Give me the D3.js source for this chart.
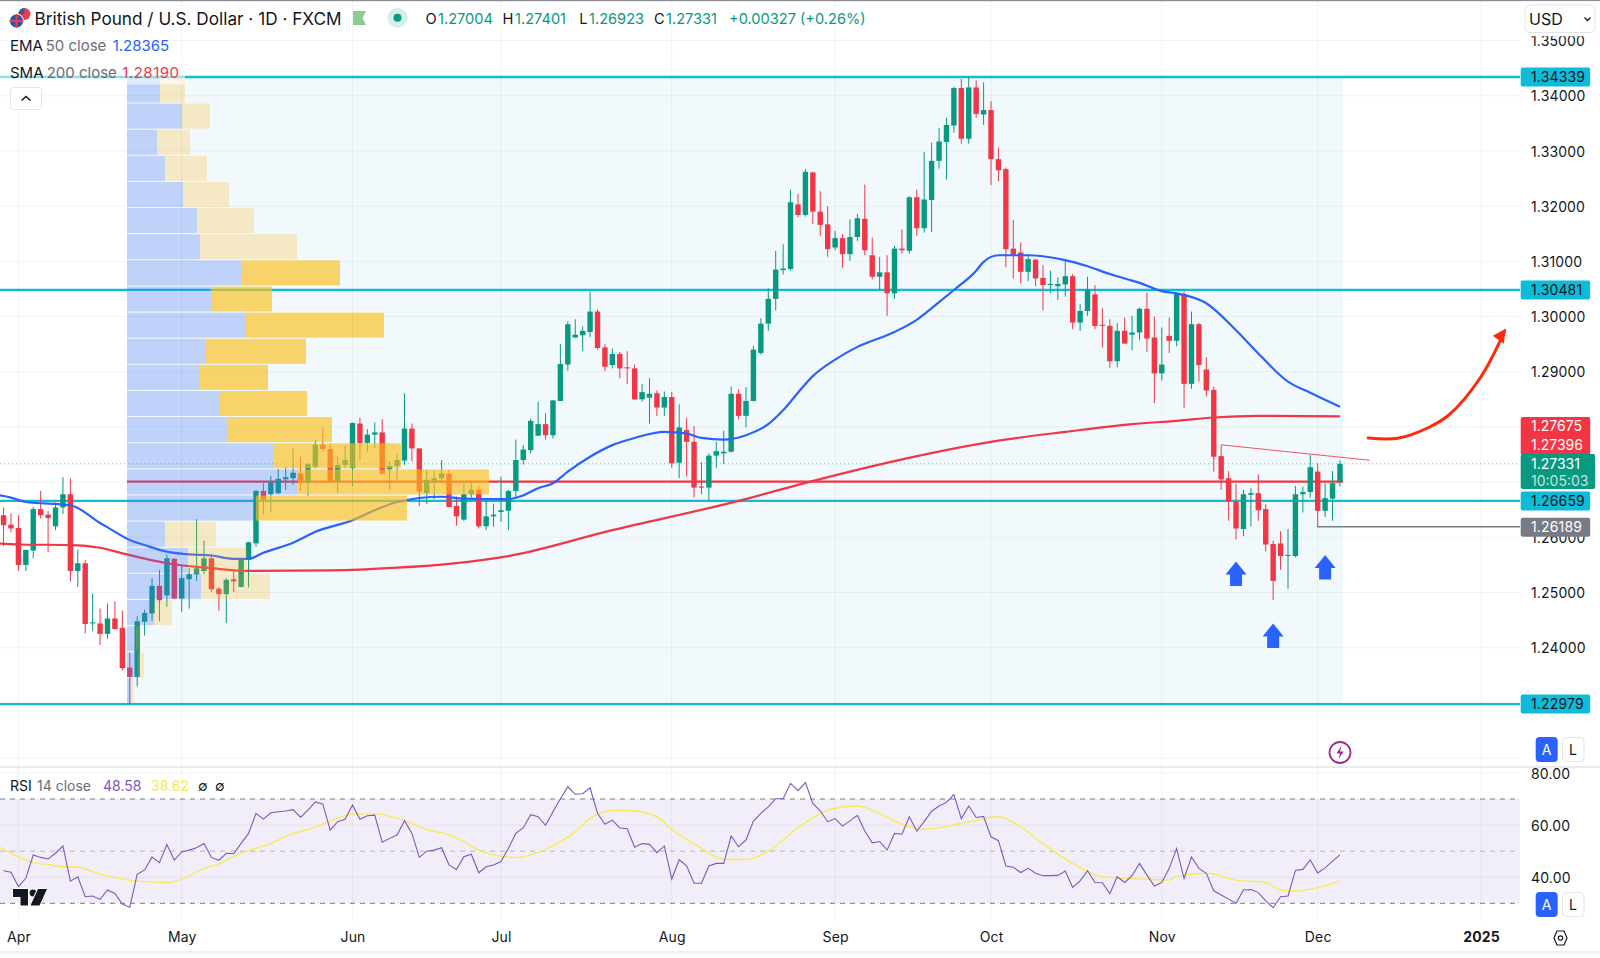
<!DOCTYPE html>
<html lang="en">
<head>
  <meta charset="UTF-8">
  <title>GBP/USD daily</title>
  <script src="https://d3js.org/d3.v7.min.js"></script>
  <style>
    html, body { margin: 0; padding: 0; background: #fff; }
    svg { display: block; font-family: Inter, "Noto Sans", sans-serif; }
    .tick text { fill: #131722; font-family: Inter, "Noto Sans", sans-serif; letter-spacing: 0.15px; }
  </style>
</head>
<body>
  <div id="chart"></div>
  <script>
    // first candle is two sessions before Apr 1
    const firstBar = -2;
    const opens = [
      1.2640,1.2623,1.2617,1.2550,1.2576,1.2651,1.2641,1.2620,1.2654,1.2678,
      1.2539,1.2553,1.2444,1.2444,1.2425,1.2453,1.2436,1.2364,1.2347,1.2447,
      1.2462,1.2512,1.2495,1.2561,1.2489,1.2524,1.2533,1.2539,1.2562,1.2507,
      1.2497,1.2524,1.2510,1.2559,1.2589,1.2684,1.2678,1.2680,1.2705,1.2707,
      1.2716,1.2698,1.2728,1.2768,1.2760,1.2701,1.2731,1.2725,1.2806,1.2771,
      1.2786,1.2790,1.2723,1.2729,1.2739,1.2797,1.2761,1.2680,1.2703,1.2707,
      1.2715,1.2657,1.2632,1.2678,1.2686,1.2620,1.2638,1.2646,1.2648,1.2684,
      1.2740,1.2758,1.2784,1.2805,1.2785,1.2847,1.2913,1.2962,1.2966,1.2972,
      1.3009,1.2944,1.2912,1.2932,1.2908,1.2906,1.2850,1.2853,1.2861,1.2835,
      1.2854,1.2735,1.2794,1.2773,1.2692,1.2690,1.2748,1.2752,1.2755,1.2860,
      1.2820,1.2847,1.2934,1.2987,1.3032,1.3084,1.3086,1.3203,1.3184,1.3261,
      1.3190,1.3167,1.3125,1.3142,1.3113,1.3144,1.3177,1.3111,1.3072,1.3080,
      1.3042,1.3123,1.3119,1.3216,1.3160,1.3211,1.3282,1.3316,1.3346,1.3414,
      1.3322,1.3415,1.3366,1.3374,1.3285,1.3267,1.3123,1.3116,1.3081,1.3103,
      1.3070,1.3057,1.3055,1.3058,1.3073,1.2989,1.3010,1.3040,1.2985,1.2983,
      1.2919,1.2974,1.2967,1.2971,1.3014,1.2962,1.2897,1.2965,1.2956,1.3041,
      1.2878,1.2986,1.2904,1.2867,1.2747,1.2707,1.2665,1.2615,1.2677,1.2680,
      1.2651,1.2588,1.2589,1.2567,1.2566,1.2678,1.2682,1.2719,1.2648,1.2670,1.27004
    ];
    const highs = [
      1.2654,1.2643,1.2640,1.2578,1.2655,1.2684,1.2648,1.2663,1.2709,1.2707,
      1.2578,1.2559,1.2498,1.2471,1.2480,1.2484,1.2467,1.2391,1.2457,1.2469,
      1.2526,1.2541,1.2569,1.2562,1.2550,1.2544,1.2633,1.2594,1.2570,1.2510,
      1.2526,1.2541,1.2562,1.2592,1.2686,1.2698,1.2711,1.2724,1.2728,1.2761,
      1.2746,1.2734,1.2776,1.2800,1.2770,1.2747,1.2766,1.2808,1.2817,1.2796,
      1.2808,1.2814,1.2738,1.2752,1.2861,1.2806,1.2762,1.2722,1.2720,1.2740,
      1.2722,1.2674,1.2698,1.2698,1.2692,1.2669,1.2661,1.2710,1.2686,1.2777,
      1.2767,1.2815,1.2846,1.2825,1.2849,1.2950,1.2991,1.2995,1.2982,1.3045,
      1.3013,1.2950,1.2942,1.2936,1.2937,1.2913,1.2878,1.2888,1.2866,1.2864,
      1.2863,1.2841,1.2817,1.2802,1.2736,1.2752,1.2773,1.2793,1.2873,1.2868,
      1.2872,1.2947,1.2997,1.3051,1.3119,1.3131,1.3230,1.3222,1.3267,1.3262,
      1.3227,1.3200,1.3155,1.3149,1.3176,1.3186,1.3239,1.3143,1.3108,1.3111,
      1.3128,1.3158,1.3218,1.3230,1.3298,1.3315,1.3341,1.3360,1.3416,1.3430,
      1.3434,1.3428,1.3424,1.3390,1.3306,1.3270,1.3175,1.3134,1.3113,1.3104,
      1.3093,1.3083,1.3071,1.3102,1.3077,1.3023,1.3072,1.3057,1.3015,1.2995,
      1.2988,1.2998,1.3001,1.3016,1.3043,1.3000,1.2980,1.2998,1.3043,1.3046,
      1.3009,1.2988,1.2926,1.2873,1.2767,1.2720,1.2697,1.2686,1.2689,1.2714,
      1.2660,1.2594,1.2611,1.2615,1.2693,1.2692,1.2749,1.2734,1.2698,1.2720,1.27401
    ];
    const lows = [
      1.2584,1.2609,1.2539,1.2539,1.2562,1.2634,1.2573,1.2613,1.2642,1.2520,
      1.2510,1.2426,1.2430,1.2405,1.2416,1.2432,1.2359,1.2298,1.2330,1.2422,
      1.2449,1.2448,1.2474,1.2488,1.2465,1.2471,1.2521,1.2533,1.2501,1.2467,
      1.2445,1.2501,1.2509,1.2509,1.2583,1.2642,1.2645,1.2678,1.2686,1.2695,
      1.2684,1.2674,1.2725,1.2755,1.2700,1.2681,1.2725,1.2693,1.2741,1.2755,
      1.2762,1.2714,1.2687,1.2704,1.2731,1.2738,1.2657,1.2660,1.2669,1.2701,
      1.2654,1.2621,1.2630,1.2672,1.2616,1.2613,1.2619,1.2628,1.2613,1.2670,
      1.2732,1.2752,1.2784,1.2777,1.2779,1.2847,1.2902,1.2961,1.2938,1.2963,
      1.2940,1.2901,1.2906,1.2888,1.2878,1.2849,1.2846,1.2806,1.2820,1.2820,
      1.2726,1.2707,1.2710,1.2672,1.2678,1.2666,1.2726,1.2733,1.2754,1.2814,
      1.2799,1.2846,1.2931,1.2974,1.3011,1.3076,1.3083,1.3180,1.3181,1.3168,
      1.3146,1.3108,1.3120,1.3088,1.3101,1.3137,1.3111,1.3067,1.3048,1.3001,
      1.3032,1.3114,1.3114,1.3146,1.3152,1.3153,1.3268,1.3248,1.3333,1.3313,
      1.3313,1.3360,1.3347,1.3238,1.3245,1.3089,1.3069,1.3060,1.3064,1.3055,
      1.3011,1.3042,1.3030,1.3036,1.2977,1.2974,1.3001,1.2977,1.2944,1.2907,
      1.2908,1.2950,1.2939,1.2957,1.2936,1.2843,1.2884,1.2934,1.2946,1.2834,
      1.2869,1.2882,1.2855,1.2719,1.2686,1.2630,1.2596,1.2602,1.2620,1.2630,
      1.2574,1.2486,1.2541,1.2507,1.2564,1.2645,1.2672,1.2618,1.2637,1.2630,1.26923
    ];
    const closes = [
      1.2622,1.2616,1.2550,1.2577,1.2651,1.2640,1.2635,1.2654,1.2678,1.2539,
      1.2553,1.2443,1.2446,1.2425,1.2453,1.2434,1.2363,1.2347,1.2448,1.2463,
      1.2512,1.2486,1.2562,1.2489,1.2526,1.2533,1.2544,1.2562,1.2506,1.2497,
      1.2523,1.2520,1.2560,1.2591,1.2684,1.2668,1.2699,1.2706,1.2709,1.2717,
      1.2698,1.2733,1.2768,1.2760,1.2701,1.2731,1.2740,1.2807,1.2771,1.2786,
      1.2790,1.2715,1.2729,1.2740,1.2797,1.2761,1.2683,1.2704,1.2707,1.2716,
      1.2655,1.2638,1.2678,1.2686,1.2620,1.2638,1.2641,1.2649,1.2684,1.2740,
      1.2759,1.2811,1.2805,1.2785,1.2848,1.2914,1.2986,1.2967,1.2974,1.3009,
      1.2943,1.2909,1.2932,1.2906,1.2906,1.2850,1.2863,1.2860,1.2835,1.2854,
      1.2734,1.2799,1.2773,1.2690,1.2690,1.2748,1.2756,1.2755,1.2860,1.2820,
      1.2847,1.2940,1.2987,1.3032,1.3085,1.3087,1.3207,1.3184,1.3262,1.3190,
      1.3166,1.3122,1.3142,1.3113,1.3144,1.3178,1.3120,1.3072,1.3080,1.3042,
      1.3123,1.3120,1.3216,1.3160,1.3212,1.3282,1.3317,1.3347,1.3414,1.3322,
      1.3415,1.3367,1.3374,1.3285,1.3265,1.3122,1.3112,1.3081,1.3104,1.3069,
      1.3057,1.3059,1.3059,1.3073,1.2989,1.3010,1.3048,1.2983,1.2983,1.2919,
      1.2974,1.2951,1.2971,1.3014,1.2960,1.2897,1.2913,1.2956,1.3042,1.2878,
      1.2986,1.2912,1.2866,1.2746,1.2705,1.2665,1.2616,1.2678,1.2680,1.2649,
      1.2587,1.2521,1.2566,1.2568,1.2678,1.2682,1.2727,1.2648,1.2671,1.2698,1.27331
    ];

    const emaBars = [-3,-1,1,7,11,13,15,17,20,23,26,29,31,33,37,40,45,48,51,57,60,66,68,70,72,74,77,80,83,87,90,92,95,98,101,103,105,107,110,113,118,121,124,126,129,130,132,136,141,144,147,150,151,154,156,160,164,167,171,174,178];
    const emaValues = [1.2677,1.2672,1.2664,1.2658,1.2626,1.2610,1.2595,1.2586,1.2574,1.2569,1.2567,1.2561,1.2561,1.2572,1.2590,1.2610,1.2631,1.2649,1.2664,1.26735,1.2670,1.2669,1.2676,1.2689,1.2698,1.2719,1.2746,1.2767,1.2780,1.2791,1.2788,1.2780,1.2777,1.2785,1.2805,1.2830,1.2862,1.2892,1.2922,1.2945,1.2972,1.2994,1.3026,1.3048,1.3083,1.3099,1.3111,1.3111,1.3102,1.3091,1.3077,1.3065,1.3061,1.3046,1.3042,1.3024,1.2975,1.2933,1.2882,1.2862,1.28365];
    const smaBars = [-3,0,7,11,14,20,26,31,42,51,58,66,80,97,105,118,132,141,150,156,161,167,178];
    const smaValues = [1.2589,1.2587,1.2586,1.2581,1.2571,1.2553,1.2544,1.2539,1.2540,1.2545,1.2552,1.2566,1.2613,1.2666,1.2695,1.2738,1.2775,1.2791,1.2805,1.2811,1.2817,1.2820,1.2819];

    const rsiValues = [
      42.5,41.9,36.4,39.6,48.5,47.6,47.0,49.2,52.0,38.5,
      40.2,32.5,32.8,31.5,35.1,33.8,29.7,28.5,41.1,42.8,
      47.7,45.6,52.5,46.6,49.7,50.4,51.3,52.9,47.6,46.5,
      49.2,49.0,53.0,56.8,64.5,62.3,64.7,65.1,65.4,65.9,
      63.0,65.7,68.9,68.0,58.1,61.3,62.2,67.7,62.2,63.6,
      63.8,53.4,54.9,56.2,61.7,56.8,47.6,50.0,50.4,51.3,
      44.7,43.0,47.9,48.8,41.7,44.0,44.7,46.0,51.1,56.8,
      59.0,64.0,63.2,59.9,65.1,70.1,74.7,71.8,72.0,74.3,
      64.5,60.3,61.9,58.9,58.6,51.5,52.9,52.6,49.4,52.0,
      39.3,46.7,44.4,37.7,37.7,44.3,45.3,45.3,55.8,51.7,
      54.3,61.5,64.5,67.0,70.1,70.1,76.0,73.2,76.3,68.3,
      65.5,61.3,62.5,59.6,61.6,63.7,57.7,53.2,53.7,50.4,
      56.8,56.5,63.2,57.7,61.3,65.3,67.3,68.7,71.7,62.5,
      67.3,62.9,63.3,55.5,54.0,44.3,43.8,41.8,43.4,41.5,
      40.6,40.6,40.7,42.4,36.1,38.6,42.5,38.0,37.9,33.7,
      40.2,38.0,40.6,45.3,40.8,36.6,38.0,43.4,51.0,39.5,
      47.8,43.4,41.5,34.8,33.2,31.6,30.0,35.1,35.3,34.1,
      30.9,28.3,32.5,32.8,42.6,43.0,46.6,41.6,43.6,46.2,48.58
    ];
    const rsiMaBars = [-3,-1,2,4,6,8,11,16,20,22,25,27,29,34,37,39,42,45,48,52,55,58,60,62,67,71,75,77,80,82,86,88,92,95,98,101,105,108,109,113,116,119,122,127,132,135,138,142,146,151,155,156,160,164,168,170,172,175,178];
    const rsiMaValues = [52.3,49.2,45.6,44.9,44.0,43.8,41.2,38.5,38.0,39.3,43.4,45.1,48.1,53.0,56.8,58.3,61.5,64.2,64.3,61.7,58.3,56.2,53.6,50.4,47.6,50.7,57.5,62.6,65.6,65.6,63.2,58.3,51.1,46.8,46.8,50.0,59.0,64.4,65.7,67.3,64.4,60.4,58.4,60.6,63.2,59.3,52.9,45.3,40.2,39.3,38.9,40.4,41.5,38.9,38.0,35.1,34.7,36.0,38.62];

    // fixed range volume profile, top row first
    const profileHigh = 1.34339;
    const profileLow = 1.22979;
    const volumeUp = [33,55,30,38,56,70,73,114,84,118,78,72,92,101,146,171,129,38,61,74,27,9,11,4];
    const volumeDown = [25,28,33,42,46,57,97,99,61,139,101,69,88,104,128,191,151,51,59,69,18,3,6,2.5];
    const valueAreaRows = [7,16];
    const pocPrice = 1.27007;

    const levels = [1.34339,1.30481,1.26659,1.22979];
    const lastPrice = 1.27331;
    const stopPrice = 1.26189;
    const gridPrices = [1.22,1.23,1.24,1.25,1.26,1.27,1.28,1.29,1.30,1.31,1.32,1.33,1.34,1.35];
    // 1.23, 1.27 and 1.28 sit behind the price tags
    const priceTicks = [1.24,1.25,1.26,1.29,1.30,1.31,1.32,1.33,1.34,1.35];
    const rsiTicks = [40,60,80];
    const rsiGuides = [70,50,30];
    const monthBars = [0,22,45,65,88,110,131,154,175,197];
    const monthLabels = ['Apr','May','Jun','Jul','Aug','Sep','Oct','Nov','Dec','2025'];

    // drawings on the chart
    const trendBars = [162,182];
    const trendPrices = [1.27675,1.27396];
    const curveBars = [181.8,185.8,189.8,192.7,196.9,200.2];
    const curvePrices = [1.2780,1.27795,1.2798,1.2822,1.2889,1.2974];
    const arrowBars = [164,169,176];
    const arrowPrices = [1.2556,1.2444,1.2568];

    const width = 1600, height = 958;
    const paneRight = 1520, paneBottom = 766;
    const green = '#089981', red = '#f23645', cyan = '#0cbcd8';

    const x = d3.scaleLinear().domain([0,175]).range([18.4,1317.7]);
    const y = d3.scaleLinear().domain([1.24,1.34]).range([647.7,95.7]);
    const yRsi = d3.scaleLinear().domain([30,70]).range([903.3,799]);
    const volX = d3.scaleLinear().domain([0,300]).range([127,427]);

    const svg = d3.select('#chart').append('svg')
      .attr('width', width).attr('height', height);

    const defs = svg.append('defs');
    defs.append('clipPath').attr('id', 'main-clip').append('rect')
      .attr('width', paneRight).attr('height', paneBottom);
    defs.append('clipPath').attr('id', 'rsi-clip').append('rect')
      .attr('y', 770).attr('width', paneRight).attr('height', 152);

    const main = svg.append('g').attr('clip-path', 'url(#main-clip)');
    const rsiPane = svg.append('g').attr('clip-path', 'url(#rsi-clip)');

    // tinted range behind the profile
    main.append('rect')
      .attr('x', volX(0)).attr('y', y(profileHigh))
      .attr('width', x(178.4) - volX(0)).attr('height', y(profileLow) - y(profileHigh))
      .attr('fill', '#f2f9fd');

    // grid
    const gridColor = 'rgba(42,46,57,0.055)';
    main.selectAll('.hgrid').data(gridPrices).enter().append('line')
      .attr('x1', 0).attr('x2', paneRight)
      .attr('y1', d => y(d)).attr('y2', d => y(d))
      .attr('stroke', gridColor);
    svg.selectAll('.vgrid').data(monthBars).enter().append('line')
      .attr('x1', d => x(d)).attr('x2', d => x(d))
      .attr('y1', 0).attr('y2', 921)
      .attr('stroke', gridColor);

    // level lines
    main.selectAll('.level').data(levels).enter().append('line')
      .attr('x1', 0).attr('x2', paneRight)
      .attr('y1', d => y(d)).attr('y2', d => y(d))
      .attr('stroke', cyan).attr('stroke-width', 2.3);
    main.append('line')
      .attr('x1', volX(0)).attr('x2', x(178.4))
      .attr('y1', y(pocPrice)).attr('y2', y(pocPrice))
      .attr('stroke', red).attr('stroke-width', 2.2);
    main.append('line')
      .attr('x1', 0).attr('x2', paneRight)
      .attr('y1', y(lastPrice)).attr('y2', y(lastPrice))
      .attr('stroke', green).attr('stroke-opacity', 0.6)
      .attr('stroke-dasharray', '1 3');

    // candles
    const candles = opens.map((o, i) => ({
      bar: i + firstBar, o, h: highs[i], l: lows[i], c: closes[i]
    }));
    const candle = main.selectAll('.candle').data(candles).enter().append('g')
      .attr('class', 'candle')
      .attr('fill', d => d.c >= d.o ? green : red)
      .attr('stroke', d => d.c >= d.o ? green : red);
    candle.append('line')
      .attr('x1', d => x(d.bar)).attr('x2', d => x(d.bar))
      .attr('y1', d => y(d.h)).attr('y2', d => y(d.l))
      .attr('stroke-width', 1);
    candle.append('rect')
      .attr('x', d => x(d.bar) - 2.7).attr('width', 5.4)
      .attr('y', d => y(Math.max(d.o, d.c)))
      .attr('height', d => Math.max(1, Math.abs(y(d.o) - y(d.c))))
      .attr('stroke', 'none');

    // averages
    const avgLine = d3.line().x(d => x(d[0])).y(d => y(d[1])).curve(d3.curveMonotoneX);
    main.append('path').attr('d', avgLine(d3.zip(smaBars, smaValues)))
      .attr('fill', 'none').attr('stroke', red).attr('stroke-width', 2.2);
    main.append('path').attr('d', avgLine(d3.zip(emaBars, emaValues)))
      .attr('fill', 'none').attr('stroke', '#2962ff').attr('stroke-width', 2.2);

    // drawings
    main.append('line')
      .attr('x1', x(trendBars[0])).attr('x2', x(trendBars[1]))
      .attr('y1', y(trendPrices[0])).attr('y2', y(trendPrices[1]))
      .attr('stroke', '#f7525f');
    main.append('line')
      .attr('x1', x(175)).attr('x2', paneRight)
      .attr('y1', y(stopPrice)).attr('y2', y(stopPrice))
      .attr('stroke', '#787b86').attr('stroke-width', 1.5);

    main.append('path')
      .attr('d', d3.line().x(d => x(d[0])).y(d => y(d[1])).curve(d3.curveCatmullRom)(d3.zip(curveBars, curvePrices)))
      .attr('fill', 'none').attr('stroke', '#ff2a0a').attr('stroke-width', 3).attr('stroke-linecap', 'round');
    const tipX = x(curveBars[5]) + 1, tipY = y(curvePrices[5]) - 2;
    main.append('path')
      .attr('d', `M${tipX},${tipY}L${tipX - 13},${tipY + 7}L${tipX - 2},${tipY + 15}Z`)
      .attr('fill', '#ff2a0a');

    main.selectAll('.up-arrow').data(d3.zip(arrowBars, arrowPrices)).enter().append('path')
      .attr('transform', d => `translate(${x(d[0])},${y(d[1])})`)
      .attr('d', 'M0,0L10.5,13H6V24.5H-6V13H-10.5Z')
      .attr('fill', '#2962ff');

    // volume profile goes over the candles, it is see-through
    const rowPrice = (profileHigh - profileLow) / volumeUp.length;
    const rowTop = i => y(profileHigh - i * rowPrice);
    const isValueArea = i => i >= valueAreaRows[0] && i <= valueAreaRows[1];
    const rows = volumeUp.map((up, i) => ({ i, up, down: volumeDown[i] }));
    const profile = main.selectAll('.row').data(rows).enter().append('g');
    profile.append('rect')
      .attr('x', volX(0)).attr('y', d => rowTop(d.i) + 0.5)
      .attr('width', d => volX(d.up) - volX(0)).attr('height', 25)
      .attr('fill', 'rgba(72,119,243,0.3)');
    profile.append('rect')
      .attr('x', d => volX(d.up)).attr('y', d => rowTop(d.i) + 0.5)
      .attr('width', d => volX(d.down) - volX(0)).attr('height', 25)
      .attr('fill', d => isValueArea(d.i) ? 'rgba(250,191,28,0.65)' : 'rgba(254,185,33,0.25)');

    // RSI pane
    rsiPane.append('rect')
      .attr('x', 0).attr('y', yRsi(70)).attr('width', paneRight).attr('height', yRsi(30) - yRsi(70))
      .attr('fill', 'rgba(126,87,194,0.1)');
    rsiPane.selectAll('.rsi-grid').data(rsiTicks).enter().append('line')
      .attr('x1', 0).attr('x2', paneRight)
      .attr('y1', d => yRsi(d)).attr('y2', d => yRsi(d))
      .attr('stroke', gridColor);
    rsiPane.selectAll('.rsi-guide').data(rsiGuides).enter().append('line')
      .attr('x1', 0).attr('x2', paneRight)
      .attr('y1', d => yRsi(d)).attr('y2', d => yRsi(d))
      .attr('stroke', '#787b86').attr('stroke-opacity', d => d === 50 ? 0.5 : 1)
      .attr('stroke-dasharray', '5 5');
    rsiPane.append('path')
      .attr('d', d3.line().x(d => x(d[0])).y(d => yRsi(d[1])).curve(d3.curveMonotoneX)(d3.zip(rsiMaBars, rsiMaValues)))
      .attr('fill', 'none').attr('stroke', '#fbea55').attr('stroke-width', 1.4);
    rsiPane.append('path')
      .attr('d', d3.line().x((d, i) => x(i + firstBar)).y(d => yRsi(d))(rsiValues))
      .attr('fill', 'none').attr('stroke', '#7e57c2').attr('stroke-width', 1.1);

    // pane separators
    svg.append('rect').attr('x', 0).attr('y', 766).attr('width', width).attr('height', 2).attr('fill', '#e8eaf2');
    svg.append('rect').attr('x', 0).attr('y', 951).attr('width', width).attr('height', 2.5).attr('fill', '#eff0f3');
    svg.append('rect').attr('x', 0).attr('y', 0).attr('width', width).attr('height', 1.2).attr('fill', '#8a8d94');

    // axes
    const priceAxis = d3.axisRight(y).tickValues(priceTicks).tickFormat(d3.format('.5f')).tickSize(0).tickPadding(0);
    const priceG = svg.append('g').attr('transform', 'translate(1531,0.7)').call(priceAxis);
    priceG.select('.domain').remove();
    priceG.selectAll('text').attr('font-size', 14);

    const rsiAxis = d3.axisRight(yRsi).tickValues(rsiTicks).tickFormat(d3.format('.2f')).tickSize(0).tickPadding(0);
    const rsiG = svg.append('g').attr('transform', 'translate(1531,0.7)').call(rsiAxis);
    rsiG.select('.domain').remove();
    rsiG.selectAll('text').attr('font-size', 14);

    const timeAxis = d3.axisBottom(x).tickValues(monthBars).tickFormat((d, i) => monthLabels[i]).tickSize(0).tickPadding(0);
    const timeG = svg.append('g').attr('transform', 'translate(0,932)').call(timeAxis);
    timeG.select('.domain').remove();
    timeG.selectAll('text').attr('font-size', 14)
      .attr('font-weight', (d, i) => monthLabels[i] === '2025' ? 700 : 400);

    // price tags on the right scale
    function tag(cy, h, fill, label, textFill, w) {
      svg.append('rect').attr('x', 1520.7).attr('y', cy - h / 2).attr('width', w || 69.5).attr('height', h)
        .attr('rx', 2).attr('fill', fill);
      if (label) svg.append('text').attr('x', 1531).attr('y', cy + 5).attr('font-size', 14)
        .attr('letter-spacing', 0.15).attr('fill', textFill).text(label);
    }
    tag(y(levels[0]), 19, cyan, '1.34339', '#131722');
    tag(y(levels[1]), 19, cyan, '1.30481', '#131722');
    tag(436, 38, red);
    svg.append('text').attr('x', 1531).attr('y', 431).attr('font-size', 14).attr('fill', '#fff').text('1.27675');
    svg.append('text').attr('x', 1531).attr('y', 450).attr('font-size', 14).attr('fill', '#fff').text('1.27396');
    tag(471.5, 35, green, null, null, 74.5);
    svg.append('text').attr('x', 1531).attr('y', 469).attr('font-size', 14).attr('fill', '#fff').text('1.27331');
    svg.append('text').attr('x', 1531).attr('y', 486).attr('font-size', 14).attr('fill', 'rgba(255,255,255,0.75)').text('10:05:03');
    tag(y(levels[2]), 19, cyan, '1.26659', '#131722');
    tag(y(stopPrice) + 0.5, 19, '#787b86', '1.26189', '#fff');
    tag(y(levels[3]), 19, cyan, '1.22979', '#131722');

    // USD selector sits on a white strip that cuts the top tick
    svg.append('rect').attr('x', 1521).attr('y', 1.2).attr('width', 79).attr('height', 35).attr('fill', '#fff');
    svg.append('rect').attr('x', 1525).attr('y', 5).attr('width', 70).attr('height', 27.5)
      .attr('rx', 5).attr('fill', '#fff').attr('stroke', '#e0e3eb');
    svg.append('text').attr('x', 1529).attr('y', 25).attr('font-size', 16).attr('fill', '#131722').text('USD');
    svg.append('path').attr('d', 'M1584.5,17.5l3,3l3,-3').attr('fill', 'none').attr('stroke', '#131722').attr('stroke-width', 1.3);

    // A / L buttons
    [737, 892].forEach(top => {
      svg.append('rect').attr('x', 1535.7).attr('y', top).attr('width', 22).attr('height', 25).attr('rx', 4).attr('fill', '#2962ff');
      svg.append('text').attr('x', 1546.7).attr('y', top + 17.5).attr('text-anchor', 'middle').attr('font-size', 14).attr('fill', '#fff').text('A');
      svg.append('rect').attr('x', 1562.5).attr('y', top + 0.5).attr('width', 21.5).attr('height', 24).attr('rx', 4).attr('fill', '#fff').attr('stroke', '#e0e3eb');
      svg.append('text').attr('x', 1573).attr('y', top + 17.5).attr('text-anchor', 'middle').attr('font-size', 14).attr('fill', '#131722').text('L');
    });

    // lightning badge
    svg.append('circle').attr('cx', 1340).attr('cy', 752.5).attr('r', 10.5)
      .attr('fill', '#fff').attr('stroke', '#a3288e').attr('stroke-width', 1.8);
    svg.append('path').attr('d', 'M1341.5,745.5l-5,8h3.5l-1.5,6l5,-8h-3.5z').attr('fill', '#a3288e');

    // settings hexagon
    svg.append('path').attr('d', 'M1554,938l3,-7h7l3,7l-3,7h-7z').attr('fill', 'none').attr('stroke', '#131722').attr('stroke-width', 1.2);
    svg.append('circle').attr('cx', 1560.5).attr('cy', 938).attr('r', 2.2).attr('fill', 'none').attr('stroke', '#131722').attr('stroke-width', 1.2);

    // logo
    const logo = svg.append('g').attr('fill', '#131722').attr('stroke', '#fff').attr('stroke-width', 2).attr('paint-order', 'stroke');
    logo.append('path').attr('d', 'M13,889H28V905.5H20.5V897H13Z');
    logo.append('circle').attr('cx', 33).attr('cy', 893).attr('r', 3.4);
    logo.append('path').attr('d', 'M38,889H47L39.5,905.5H30.5Z');

    // header and legends
    svg.append('rect').attr('x', 0).attr('y', 60).attr('width', 185).attr('height', 24.5).attr('fill', 'rgba(255,255,255,0.55)');

    function label(px, py, size, fill, str) {
      return svg.append('text').attr('x', px).attr('y', py).attr('font-size', size).attr('fill', fill).text(str);
    }
    const textDark = '#131722', textGrey = '#6a6d78';

    svg.append('circle').attr('cx', 24.5).attr('cy', 14).attr('r', 6).attr('fill', '#e8404f');
    svg.append('path').attr('d', 'M18.5,14a6,6 0 0 1 6,-6v6z').attr('fill', '#3158a8');
    svg.append('circle').attr('cx', 16.5).attr('cy', 21).attr('r', 7).attr('fill', '#2d56a6').attr('stroke', '#fff');
    svg.append('path').attr('d', 'M9.5,21h14M16.5,14v14').attr('stroke', '#e8404f').attr('stroke-width', 2);

    label(34.5, 24.5, 17.2, textDark, 'British Pound / U.S. Dollar · 1D · FXCM');

    svg.append('path').attr('d', 'M353,11H366L362.5,18L366,25H353Z').attr('fill', '#8dcb8e');
    svg.append('circle').attr('cx', 397.5).attr('cy', 17.7).attr('r', 10).attr('fill', '#d6eeea');
    svg.append('circle').attr('cx', 397.5).attr('cy', 17.7).attr('r', 4).attr('fill', green);

    const ohlc = [['O', 425.4, 438, '1.27004'], ['H', 502.5, 515, '1.27401'], ['L', 579.3, 589, '1.26923'], ['C', 654, 666, '1.27331']];
    ohlc.forEach(d => {
      label(d[1], 23.5, 14.6, textDark, d[0]);
      label(d[2], 23.5, 14.6, green, d[3]);
    });
    label(729, 23.5, 14.6, green, '+0.00327 (+0.26%)');

    label(10, 50.5, 15, textDark, 'EMA');
    label(45.7, 50.5, 15, textGrey, '50 close');
    label(112.7, 50.5, 15, '#2962ff', '1.28365');
    label(10, 77.5, 15, textDark, 'SMA');
    label(46.7, 77.5, 15, textGrey, '200 close');
    label(122.3, 77.5, 15, red, '1.28190').attr('letter-spacing', 0.5);

    svg.append('rect').attr('x', 10.5).attr('y', 87.5).attr('width', 31).attr('height', 22).attr('rx', 3)
      .attr('fill', '#fff').attr('stroke', '#e0e3eb');
    svg.append('path').attr('d', 'M21.5,100.5l4.5,-4l4.5,4').attr('fill', 'none').attr('stroke', textDark).attr('stroke-width', 1.5);

    label(10, 791, 14, textDark, 'RSI');
    label(37, 791, 14, textGrey, '14 close');
    label(103, 791, 14, '#7e57c2', '48.58');
    label(151, 791, 14, '#f9e94e', '38.62');
    label(198, 791, 14, textDark, '∅');
    label(215, 791, 14, textDark, '∅');
  </script>
</body>
</html>
